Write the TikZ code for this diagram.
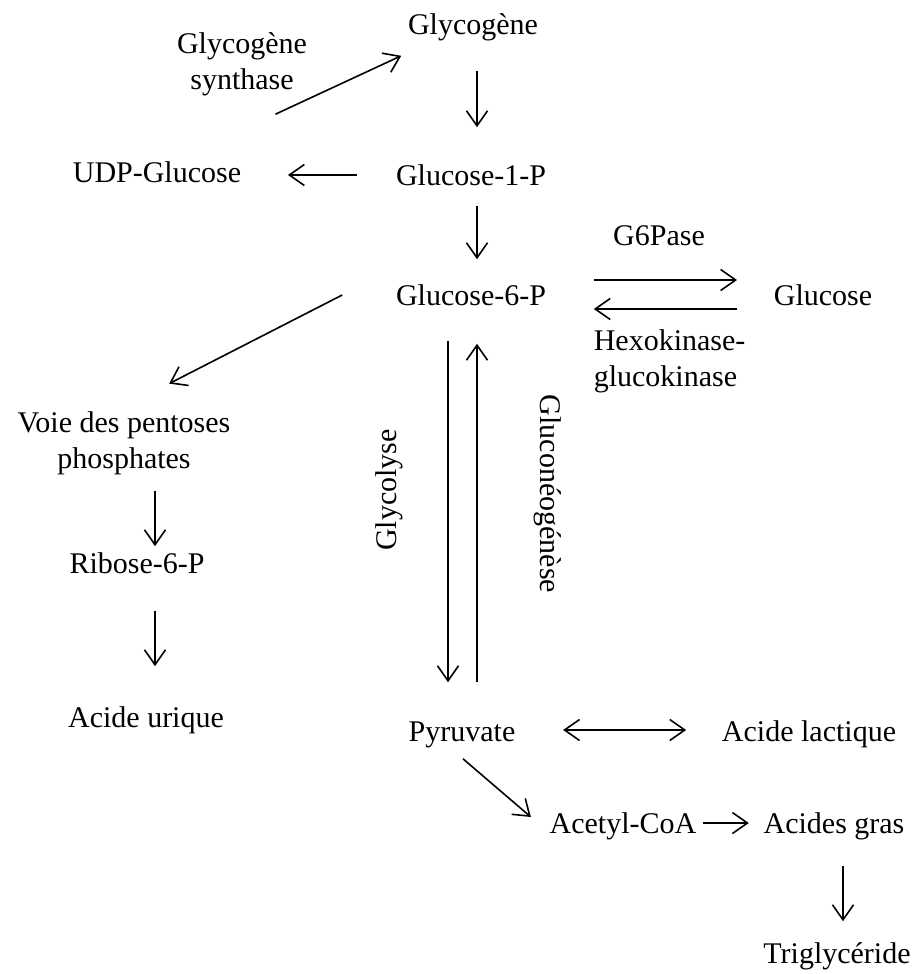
\documentclass[tikz,border=0pt]{standalone}
\usepackage{fontspec}
\setmainfont{Liberation Serif}
\usetikzlibrary{arrows.meta}
\begin{document}
\begin{tikzpicture}[x=0.5pt, y=-0.5pt,
    >={Straight Barb[length=7.5pt,width=10.5pt]}, line width=0.8pt,
    every node/.style={font=\fontsize{15}{18}\selectfont, inner sep=0pt},
    lbl/.style={text height=10pt, text depth=3pt, anchor=base},
    lbltwo/.style={align=center}]
  \useasboundingbox (0, 0) rectangle (917, 974);
  \node[lbl] (glycogene) at (473, 35) {Glycogène};
  \node[lbltwo] (synthase) at (242, 64) {Glycogène\\synthase};
  \node[lbl] (udp) at (157, 183) {UDP-Glucose};
  \node[lbl] (g1p) at (471, 185) {Glucose-1-P};
  \node[lbl] (g6p) at (471, 305) {Glucose-6-P};
  \node[lbl] (g6pase) at (659, 245) {G6Pase};
  \node[lbl] (glucose) at (823, 305) {Glucose};
  \node[lbltwo, align=left, anchor=west] (hexo) at (593, 361) {Hexokinase-\\glucokinase};
  \node[lbltwo] (pentoses) at (124, 443) {Voie des pentoses\\phosphates};
  \node[lbl] (ribose) at (137, 573) {Ribose-6-P};
  \node[lbl] (urique) at (146, 727) {Acide urique};
  \node[lbl, rotate=90, anchor=center] (glycolyse) at (389, 490) {Glycolyse};
  \node[lbl, rotate=-90, anchor=center] (neog) at (547, 494) {Gluconéogénèse};
  \node[lbl] (pyruvate) at (462, 741) {Pyruvate};
  \node[lbl] (lactique) at (809, 741) {Acide lactique};
  \node[lbl] (acetyl) at (623, 833) {Acetyl-CoA};
  \node[lbl] (gras) at (834, 833) {Acides gras};
  \node[lbl] (trig) at (837, 963) {Triglycéride};

  \draw[->] ([xshift=16.75pt, yshift=24pt]udp.north east) -- ([xshift=-3pt, yshift=-7pt]glycogene.south west);
  \draw[->, shorten <=14.5pt, shorten >=18.5pt] ([xshift=2pt]glycogene.south) -- ([xshift=3pt]g1p.north);
  \draw[->, shorten <=19pt, shorten >=23pt] ([yshift=1.5pt]g1p.west) -- ([yshift=0.5pt]udp.east);
  \draw[->, shorten <=7pt, shorten >=12.5pt] ([xshift=3pt]g1p.south) -- ([xshift=3pt]g6p.north);
  \draw[->, shorten <=23.5pt, shorten >=18pt] ([yshift=9pt]g6p.east) -- ([yshift=9pt]glucose.west);
  \draw[->, shorten <=18pt, shorten >=23.5pt] ([yshift=-5.5pt]glucose.west) -- ([yshift=-5.5pt]g6p.east);
  \draw[->] ([xshift=-26.5pt, yshift=1.5pt]g6p.west) -- ([xshift=-31pt, yshift=13.5pt]pentoses.north east);
  \draw[->, shorten <=8pt, shorten >=3pt] ([xshift=15.5pt]pentoses.south) -- ([xshift=9pt]ribose.north);
  \draw[->, shorten <=15.5pt, shorten >=20pt] ([xshift=9pt]ribose.south) -- ([xshift=4.5pt]urique.north);
  \draw[->, shorten <=14.5pt, shorten >=19pt] ([xshift=-11.5pt]g6p.south) -- ([xshift=-7pt]pyruvate.north);
  \draw[->, shorten <=19pt, shorten >=16pt] ([xshift=7.5pt]pyruvate.north) -- ([xshift=3pt]g6p.south);
  \draw[<->, shorten <=23.5pt, shorten >=17.5pt] ([yshift=2pt]pyruvate.east) -- ([yshift=2pt]lactique.west);
  \draw[->] ([xshift=0.5pt, yshift=-5.5pt]pyruvate.south) -- ([xshift=-9pt, yshift=4.5pt]acetyl.west);
  \draw[->, shorten <=3pt, shorten >=7pt] ([yshift=1.5pt]acetyl.east) -- ([yshift=1.5pt]gras.west);
  \draw[->, shorten <=13pt, shorten >=10.5pt] ([xshift=4.5pt]gras.south) -- ([xshift=3pt]trig.north);
\end{tikzpicture}
\end{document}
